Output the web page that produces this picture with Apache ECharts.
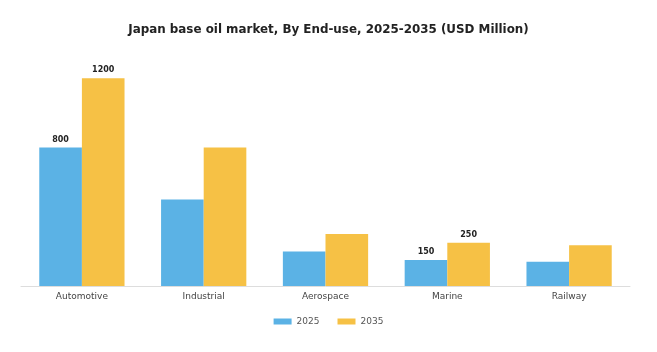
<!DOCTYPE html>
<html>
<head>
<meta charset="utf-8">
<script src="https://cdn.jsdelivr.net/npm/echarts@6/dist/echarts.min.js"></script>
<style>
  html, body { margin: 0; padding: 0; background: #fff; }
  #chart { width: 657px; height: 352px; }
</style>
</head>
<body>
<div id="chart"></div>
<script>
var categories = ['Automotive', 'Industrial', 'Aerospace', 'Marine', 'Railway'];
var values2025 = [800, 500, 200, 150, 140];
var values2035 = [1200, 800, 300, 250, 235];
// which bars carry a value label
var labeled2025 = [true, false, false, true, false];
var labeled2035 = [true, false, false, true, false];

function withLabels(vals, flags) {
  return vals.map(function (v, i) {
    return { value: v, label: { show: flags[i] } };
  });
}

var chart = echarts.init(document.getElementById('chart'));

var option = {
  backgroundColor: '#fff',
  title: {
    text: 'Japan base oil market, By End-use, 2025-2035 (USD Million)',
    left: 'center',
    top: 19,
    textStyle: {
      fontFamily: 'DejaVu Sans',
      fontSize: 11.9,
      fontWeight: 'bold',
      color: '#222'
    }
  },
  legend: {
    data: ['2025', '2035'],
    left: 'center',
    top: 312,
    itemWidth: 18,
    itemHeight: 6,
    itemGap: 18,
    icon: 'rect',
    textStyle: { fontFamily: 'DejaVu Sans', fontSize: 9, color: '#555' }
  },
  grid: {
    left: 21,
    right: 27,
    top: 61,
    bottom: 66
  },
  xAxis: {
    type: 'category',
    data: categories,
    axisTick: { show: false },
    axisLine: { lineStyle: { color: '#ddd', width: 1 } },
    axisLabel: {
      fontFamily: 'DejaVu Sans',
      fontSize: 9,
      color: '#444',
      margin: 6
    }
  },
  yAxis: {
    type: 'value',
    min: 0,
    max: 1300,
    show: false,
    splitLine: { show: false }
  },
  series: [
    {
      name: '2025',
      type: 'bar',
      barGap: '0%',
      barCategoryGap: '30%',
      itemStyle: { color: '#5BB2E5' },
      label: {
        position: 'top',
        fontFamily: 'DejaVu Sans',
        fontSize: 8,
        fontWeight: 'bold',
        color: '#222',
        distance: 4
      },
      data: withLabels(values2025, labeled2025)
    },
    {
      name: '2035',
      type: 'bar',
      itemStyle: { color: '#F6C145' },
      label: {
        position: 'top',
        fontFamily: 'DejaVu Sans',
        fontSize: 8,
        fontWeight: 'bold',
        color: '#222',
        distance: 4
      },
      data: withLabels(values2035, labeled2035)
    }
  ]
};

chart.setOption(option);
</script>
</body>
</html>
